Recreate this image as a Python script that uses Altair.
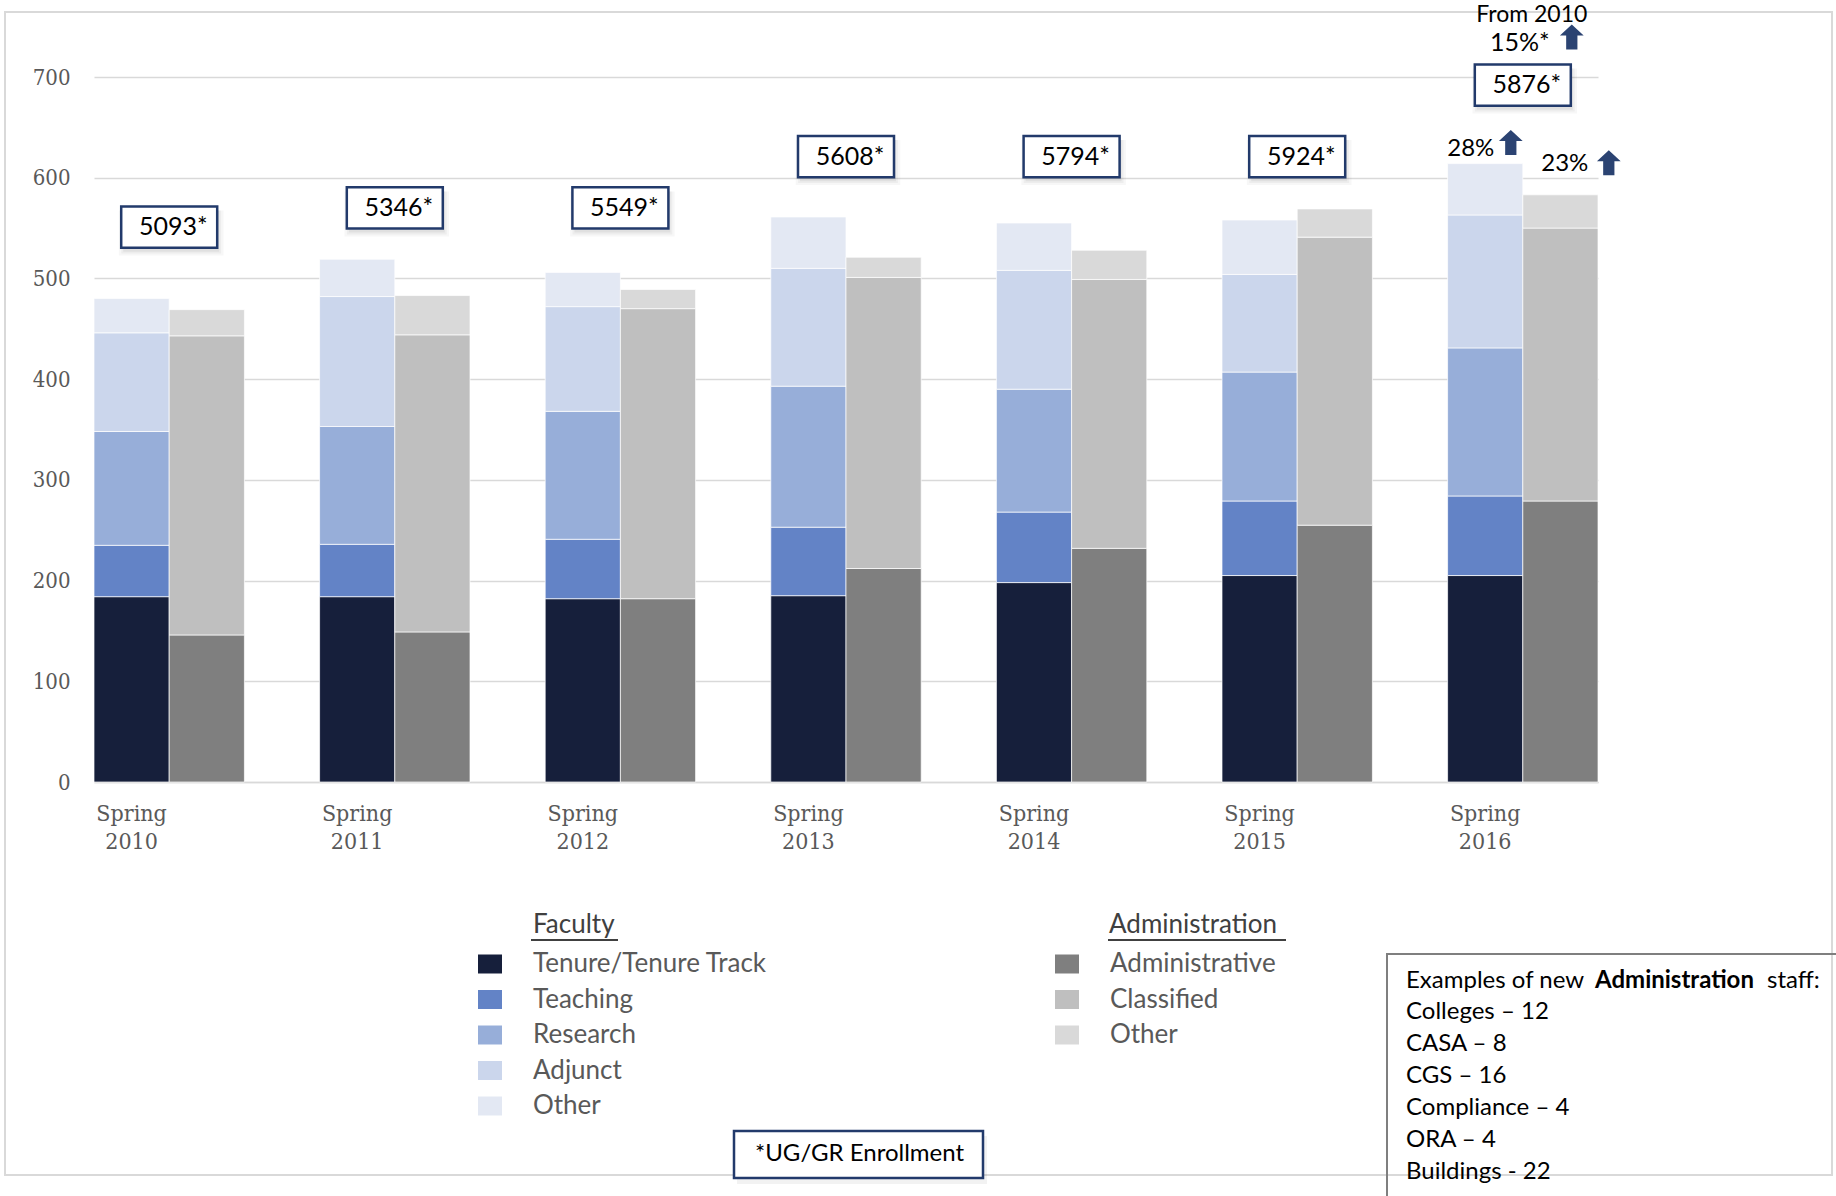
import altair as alt
import pandas as pd

# ---------------------------------------------------------------- data
years = ["Spring 2010", "Spring 2011", "Spring 2012", "Spring 2013",
         "Spring 2014", "Spring 2015", "Spring 2016"]
groups = ["Faculty", "Administration"]

faculty_types = ["Tenure/Tenure Track", "Teaching", "Research", "Adjunct", "Other"]
faculty_colors = ["#161F3B", "#6383C6", "#97AED9", "#CBD6EC", "#E3E8F3"]
tenure = [184, 184, 182, 185, 198, 205, 205]
teaching = [51, 52, 59, 68, 70, 74, 79]
research = [113, 117, 127, 140, 122, 128, 147]
adjunct = [98, 129, 104, 117, 118, 97, 132]
faculty_other = [34, 37, 34, 51, 47, 54, 51]

admin_types = ["Administrative", "Classified", "Other"]
admin_colors = ["#7F7F7F", "#BFBFBF", "#D9D9D9"]
administrative = [146, 149, 182, 212, 232, 255, 279]
classified = [297, 295, 288, 289, 267, 286, 271]
admin_other = [26, 39, 19, 20, 29, 28, 33]

enrollment = [5093, 5346, 5549, 5608, 5794, 5924, 5876]
enrollment_note = "*UG/GR Enrollment"
faculty_increase = "28%"
admin_increase = "23%"
enrollment_increase = ["From 2010", "15%*"]
staff_heading = ["Examples of new", "Administration", "staff:"]
new_admin_staff = ["Colleges \u2013 12", "CASA \u2013 8", "CGS \u2013 16",
                   "Compliance \u2013 4", "ORA \u2013 4", "Buildings - 22"]

# ---------------------------------------------------------------- tables
fac_series = [tenure, teaching, research, adjunct, faculty_other]
adm_series = [administrative, classified, admin_other]

fac_rows, adm_rows = [], []
for i, yr in enumerate(years):
    for rank, (name, s) in enumerate(zip(faculty_types, fac_series)):
        fac_rows.append({"year": yr, "group": "Faculty", "faculty_type": name,
                         "rank": rank, "count": s[i]})
    for rank, (name, s) in enumerate(zip(admin_types, adm_series)):
        adm_rows.append({"year": yr, "group": "Administration", "admin_type": name,
                         "rank": rank, "count": s[i]})
fac_df = pd.DataFrame(fac_rows)
adm_df = pd.DataFrame(adm_rows)

fac_total = [sum(s[i] for s in fac_series) for i in range(len(years))]
adm_total = [sum(s[i] for s in adm_series) for i in range(len(years))]

# heights (in axis units) at which the enrollment call-outs sit
box_level = [551, 570, 570, 621, 621, 621, 692]
enroll_df = pd.DataFrame({"year": years,
                          "label": [f"{v}*" for v in enrollment],
                          "level": box_level})

last = pd.DataFrame({"year": [years[-1]],
                     "fac_total": [fac_total[-1]],
                     "adm_total": [adm_total[-1]]})
one = pd.DataFrame({"k": [0]})

# ---------------------------------------------------------------- layout
PLOT_W, PLOT_H = 1504, 705
LEFT, TOP = 94, 77
SERIF = "DejaVu Serif Condensed, DejaVu Serif, serif"
SANS = "Lato, Open Sans, sans-serif"
NAVY = "#223A6B"
ARROW_NAVY = "#2B4372"
GRID = "#D9D9D9"
LABEL_GREY = "#595959"

RECT_SYMBOL = "M-1.2,-0.95L1.2,-0.95L1.2,0.95L-1.2,0.95Z"
BOX_SHAPE = "M-1,-0.43L1,-0.43L1,0.43L-1,0.43Z"
ARROW_SHAPE = "M0,-1L0.95,-0.12L0.45,-0.12L0.45,1L-0.45,1L-0.45,-0.12L-0.95,-0.12Z"

x_scale = alt.Scale(domain=years, paddingInner=1 / 3, paddingOuter=0)
y_scale = alt.Scale(domain=[0, 700], nice=False, zero=True)
off_scale = alt.Scale(domain=groups, paddingInner=0, paddingOuter=0)

x_axis = alt.Axis(labelExpr="split(datum.label, ' ')", labelAngle=0,
                  labelFont=SERIF, labelFontSize=23, labelColor=LABEL_GREY,
                  labelPadding=20, labelLineHeight=28, labelBaseline="top",
                  labelOffset=-37.6, ticks=False, domainColor=GRID,
                  domainWidth=1.5, grid=False)
y_axis = alt.Axis(values=list(range(0, 701, 100)), labelFont=SERIF,
                  labelFontSize=22, labelColor=LABEL_GREY, labelPadding=24,
                  ticks=False, domain=False, gridColor=GRID, gridWidth=1.5)


def legend(x):
    return alt.Legend(title=None, orient="none", legendX=x, legendY=874,
                      direction="vertical", symbolType=RECT_SYMBOL,
                      symbolSize=400, symbolStrokeWidth=0, symbolOpacity=1,
                      labelFont=SANS, labelFontSize=26, labelColor=LABEL_GREY,
                      labelOffset=30, rowPadding=9.5, padding=0,
                      labelLimit=500)


def px(v):
    return alt.value(v)


# ---------------------------------------------------------------- bars
faculty_bars = alt.Chart(fac_df).mark_bar(stroke="white", strokeWidth=0.7).encode(
    x=alt.X("year:N", scale=x_scale, axis=x_axis, title=None),
    xOffset=alt.XOffset("group:N", scale=off_scale),
    y=alt.Y("count:Q", stack="zero", scale=y_scale, axis=y_axis, title=None),
    color=alt.Color("faculty_type:N",
                    scale=alt.Scale(domain=faculty_types, range=faculty_colors),
                    legend=legend(383)),
    order=alt.Order("rank:Q", sort="ascending"),
)

admin_bars = alt.Chart(adm_df).mark_bar(stroke="white", strokeWidth=0.7).encode(
    x=alt.X("year:N", scale=x_scale, title=None),
    xOffset=alt.XOffset("group:N", scale=off_scale),
    y=alt.Y("count:Q", stack="zero", scale=y_scale, title=None),
    color=alt.Color("admin_type:N",
                    scale=alt.Scale(domain=admin_types, range=admin_colors),
                    legend=legend(960)),
    order=alt.Order("rank:Q", sort="ascending"),
)

# ---------------------------------------------------------------- frame
frame = alt.Chart(one).mark_rect(fillOpacity=0, stroke=GRID, strokeWidth=2).encode(
    x=px(5 - LEFT), x2=px(1832 - LEFT), y=px(12 - TOP), y2=px(1175 - TOP))

# ---------------------------------------------------------------- enrollment call-outs
box_x = alt.X("year:N", scale=x_scale, title=None)
box_y = alt.Y("level:Q", scale=y_scale, title=None)
shadows = [
    alt.Chart(enroll_df).mark_point(shape=BOX_SHAPE, size=9216 * f * f, filled=True,
                                    fill="black", strokeWidth=0, opacity=o,
                                    xOffset=2, yOffset=dy).encode(x=box_x, y=box_y)
    for f, o, dy in [(1.0, 0.05, 4), (1.04, 0.04, 5), (1.09, 0.03, 6)]
]
boxes = alt.Chart(enroll_df).mark_point(shape=BOX_SHAPE, size=9216, filled=True,
                                        fill="white", stroke=NAVY, strokeWidth=2.5,
                                        opacity=1).encode(x=box_x, y=box_y)
box_text = alt.Chart(enroll_df).mark_text(font=SANS, fontSize=25, color="black",
                                          dx=4, baseline="middle").encode(
    x=box_x, y=box_y, text="label:N")

# ---------------------------------------------------------------- growth labels
lx = alt.X("year:N", scale=x_scale, title=None)
fac_pct = alt.Chart(last).mark_text(text=faculty_increase, font=SANS, fontSize=24,
                                    color="black", dx=-52, dy=-8,
                                    baseline="alphabetic").encode(
    x=lx, y=alt.Y("fac_total:Q", scale=y_scale, title=None))
fac_arrow = alt.Chart(last).mark_point(shape=ARROW_SHAPE, size=625, filled=True,
                                       fill=ARROW_NAVY, strokeWidth=0, opacity=1,
                                       xOffset=-12, yOffset=-21).encode(
    x=lx, y=alt.Y("fac_total:Q", scale=y_scale, title=None))
adm_pct = alt.Chart(last).mark_text(text=admin_increase, font=SANS, fontSize=24,
                                    color="black", dx=42, dy=-24,
                                    baseline="alphabetic").encode(
    x=lx, y=alt.Y("adm_total:Q", scale=y_scale, title=None))
adm_arrow = alt.Chart(last).mark_point(shape=ARROW_SHAPE, size=625, filled=True,
                                       fill=ARROW_NAVY, strokeWidth=0, opacity=1,
                                       xOffset=86, yOffset=-32).encode(
    x=lx, y=alt.Y("adm_total:Q", scale=y_scale, title=None))
from_label = alt.Chart(last).mark_text(text=enrollment_increase[0], font=SANS,
                                       fontSize=23, color="black", dx=9,
                                       baseline="alphabetic").encode(
    x=lx, y=px(22 - TOP))
enr_pct = alt.Chart(last).mark_text(text=enrollment_increase[1], font=SANS,
                                    fontSize=25, color="black", dx=-3,
                                    baseline="alphabetic").encode(
    x=lx, y=px(51 - TOP))
enr_arrow = alt.Chart(last).mark_point(shape=ARROW_SHAPE, size=625, filled=True,
                                       fill=ARROW_NAVY, strokeWidth=0, opacity=1,
                                       xOffset=49).encode(x=lx, y=px(37 - TOP))

# ---------------------------------------------------------------- legend headings
fac_head = alt.Chart(one).mark_text(text="Faculty", font=SANS, fontSize=26,
                                    color="#404040", align="left",
                                    baseline="middle").encode(
    x=px(533 - LEFT), y=px(925 - TOP))
adm_head = alt.Chart(one).mark_text(text="Administration", font=SANS, fontSize=26,
                                    color="#404040", align="left",
                                    baseline="middle").encode(
    x=px(1109 - LEFT), y=px(925 - TOP))
fac_line = alt.Chart(one).mark_rule(color="#404040", strokeWidth=2).encode(
    x=px(531 - LEFT), x2=px(618 - LEFT), y=px(940 - TOP))
adm_line = alt.Chart(one).mark_rule(color="#404040", strokeWidth=2).encode(
    x=px(1108 - LEFT), x2=px(1286 - LEFT), y=px(940 - TOP))

# ---------------------------------------------------------------- footnote box
note_shadow = alt.Chart(one).mark_rect(fill="black", opacity=0.05).encode(
    x=px(737 - LEFT), x2=px(987 - LEFT), y=px(1136 - TOP), y2=px(1184 - TOP))
note_box = alt.Chart(one).mark_rect(fill="white", stroke=NAVY, strokeWidth=2.5).encode(
    x=px(734 - LEFT), x2=px(983 - LEFT), y=px(1131 - TOP), y2=px(1178 - TOP))
note_text = alt.Chart(one).mark_text(text=enrollment_note, font=SANS, fontSize=24,
                                     color="black", align="left",
                                     baseline="middle").encode(
    x=px(755 - LEFT), y=px(1154 - TOP))

# ---------------------------------------------------------------- staff examples box
staff_box = alt.Chart(one).mark_rect(fillOpacity=0, stroke="#7F7F7F", strokeWidth=2).encode(
    x=px(1387 - LEFT), x2=px(1900 - LEFT), y=px(954 - TOP), y2=px(1260 - TOP))
head_parts = []
for txt, xpos, weight in zip(staff_heading, [1406, 1595, 1767], ["normal", "bold", "normal"]):
    head_parts.append(
        alt.Chart(one).mark_text(text=txt, font=SANS, fontSize=24, color="black",
                                 fontWeight=weight, align="left",
                                 baseline="middle").encode(
            x=px(xpos - LEFT), y=px(981 - TOP)))
staff_lines = alt.Chart(one).mark_text(text=new_admin_staff, font=SANS, fontSize=24,
                                       color="black", align="left", baseline="top",
                                       lineHeight=32).encode(
    x=px(1406 - LEFT), y=px(1000 - TOP))

chart = alt.layer(
    frame, faculty_bars, admin_bars,
    *shadows, boxes, box_text,
    fac_pct, fac_arrow, adm_pct, adm_arrow, from_label, enr_pct, enr_arrow,
    fac_head, adm_head, fac_line, adm_line,
    note_shadow, note_box, note_text,
    staff_box, *head_parts, staff_lines,
).resolve_scale(
    color="independent"
).properties(
    width=PLOT_W, height=PLOT_H,
    autosize=alt.AutoSizeParams(type="none"),
    padding={"left": LEFT, "top": TOP, "right": 1836 - LEFT - PLOT_W,
             "bottom": 1196 - TOP - PLOT_H},
    background="white",
).configure_view(strokeWidth=0)

chart.save("out.html", embed_options={"renderer": "svg", "actions": False})
